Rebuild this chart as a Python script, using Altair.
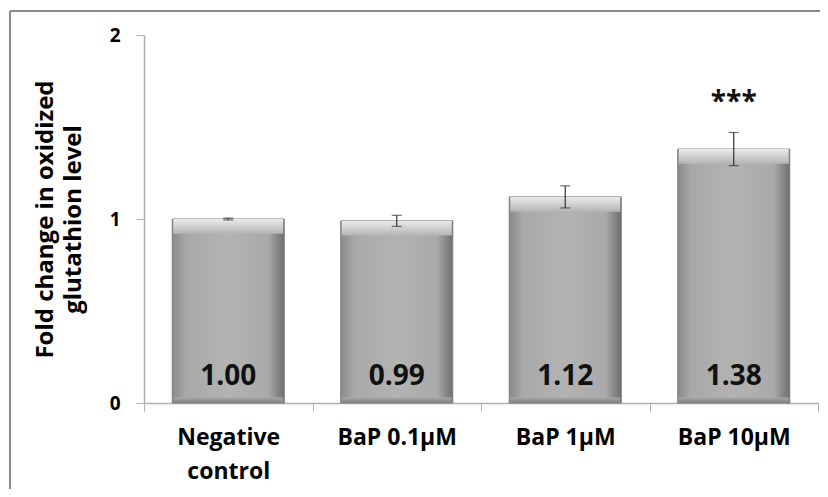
import altair as alt
import pandas as pd

categories = ["Negative control", "BaP 0.1µM", "BaP 1µM", "BaP 10µM"]
values = [1.00, 0.99, 1.12, 1.38]
errors = [0.005, 0.03, 0.06, 0.09]
value_labels = ["1.00", "0.99", "1.12", "1.38"]
significance = ["", "", "", "***"]
y_ticks = [0, 1, 2]

df = pd.DataFrame({
    "cat": categories,
    "val": values,
    "err": errors,
    "lab": value_labels,
    "sig": significance,
})

FONT = "Open Sans"
x_enc = alt.X(
    "cat:N", sort=None, title=None,
    scale=alt.Scale(paddingInner=0, paddingOuter=0),
    axis=alt.Axis(
        labelAngle=0, labelFontSize=23, labelFontWeight="bold", labelFont=FONT,
        labelColor="#000000", labelPadding=15, labelLineHeight=34,
        labelExpr="datum.label == 'Negative control' ? ['Negative', 'control'] : datum.label",
        tickBand="extent", tickSize=8, tickColor="#b0b0b0", domainColor="#b0b0b0",
        domainWidth=1.5,
    ),
)
y_scale = alt.Scale(domain=[0, 2], nice=False, zero=True)
y_axis = alt.Axis(
    values=y_ticks, labelExpr="format(datum.value, 'd')",
    title=["Fold change in oxidized", "glutathion level"],
    titleFontSize=24, titleFont=FONT, titleFontWeight="bold", titleColor="#000000",
    titlePadding=24, titleLineHeight=28,
    labelFontSize=19, labelFont=FONT, labelFontWeight="bold", labelColor="#000000",
    labelPadding=16, tickSize=8, tickColor="#b0b0b0", domainColor="#b0b0b0",
    domainWidth=1.5, grid=False, labelOverlap=False,
)

base = alt.Chart(df).encode(x=x_enc)

bar_main = base.mark_bar(
    size=112,
    stroke="#7a7a7a", strokeWidth=1,
    color=alt.Gradient(
        gradient="linear", x1=0, x2=1, y1=0, y2=0,
        stops=[
            alt.GradientStop(color="#8a8a8a", offset=0),
            alt.GradientStop(color="#a8a8a8", offset=0.12),
            alt.GradientStop(color="#b3b3b3", offset=0.5),
            alt.GradientStop(color="#a9a9a9", offset=0.86),
            alt.GradientStop(color="#6e6e6e", offset=1),
        ],
    ),
).encode(
    y=alt.Y("val:Q", scale=y_scale, axis=y_axis),
    y2=alt.datum(0),
)

bar_top = base.transform_calculate(top2="datum.val - 0.08").mark_bar(
    size=110,
    color=alt.Gradient(
        gradient="linear", x1=0, x2=0, y1=0, y2=1,
        stops=[
            alt.GradientStop(color="#ebebeb", offset=0),
            alt.GradientStop(color="#d8d8d8", offset=0.35),
            alt.GradientStop(color="#b4b4b4", offset=1),
        ],
    ),
).encode(y=alt.Y("val:Q", scale=y_scale, axis=y_axis), y2="top2:Q")

bar_bottom = base.mark_bar(
    size=110,
    color=alt.Gradient(
        gradient="linear", x1=0, x2=0, y1=0, y2=1,
        stops=[
            alt.GradientStop(color="#a8a8a8", offset=0),
            alt.GradientStop(color="#808080", offset=1),
        ],
    ),
).encode(y=alt.YDatum(0.03, scale=y_scale, axis=y_axis), y2=alt.datum(0))

err_base = base.transform_calculate(lo="datum.val - datum.err", hi="datum.val + datum.err")
err_rule = err_base.mark_rule(color="#333333", strokeWidth=1.2).encode(
    y=alt.Y("lo:Q", scale=y_scale, axis=y_axis), y2="hi:Q"
)
err_cap_hi = err_base.mark_tick(color="#333333", size=10, thickness=1.2, orient="horizontal").encode(
    y=alt.Y("hi:Q", scale=y_scale, axis=y_axis)
)
err_cap_lo = err_base.mark_tick(color="#333333", size=10, thickness=1.2, orient="horizontal").encode(
    y=alt.Y("lo:Q", scale=y_scale, axis=y_axis)
)

val_text = base.mark_text(
    font=FONT, fontSize=28, fontWeight="bold", color="#111111", baseline="middle", dy=-26
).encode(y=alt.YDatum(0, scale=y_scale, axis=y_axis), text="lab:N")

sig_text = err_base.mark_text(
    font=FONT, fontSize=28, fontWeight="bold", color="#111111", baseline="middle", dy=-30
).encode(y=alt.Y("hi:Q", scale=y_scale, axis=y_axis), text="sig:N")

border_top = alt.Chart(df).mark_rule(stroke="#8a8a8a", strokeWidth=2).encode(
    x=alt.value(-134), x2=alt.value(900), y=alt.value(-24)
)
border_left = alt.Chart(df).mark_rule(stroke="#8a8a8a", strokeWidth=2).encode(
    x=alt.value(-134), y=alt.value(-24), y2=alt.value(600)
)

chart = alt.layer(
    bar_main, bar_top, bar_bottom, err_rule, err_cap_hi, err_cap_lo, val_text, sig_text,
    border_top, border_left
).properties(
    width=674, height=368,
    autosize=alt.AutoSizeParams(type="none"),
    padding={"left": 136, "top": 27, "right": 2, "bottom": 86},
    background="#ffffff",
).configure_view(stroke=None)

chart.save("out.html", embed_options={"renderer": "svg", "actions": False})
